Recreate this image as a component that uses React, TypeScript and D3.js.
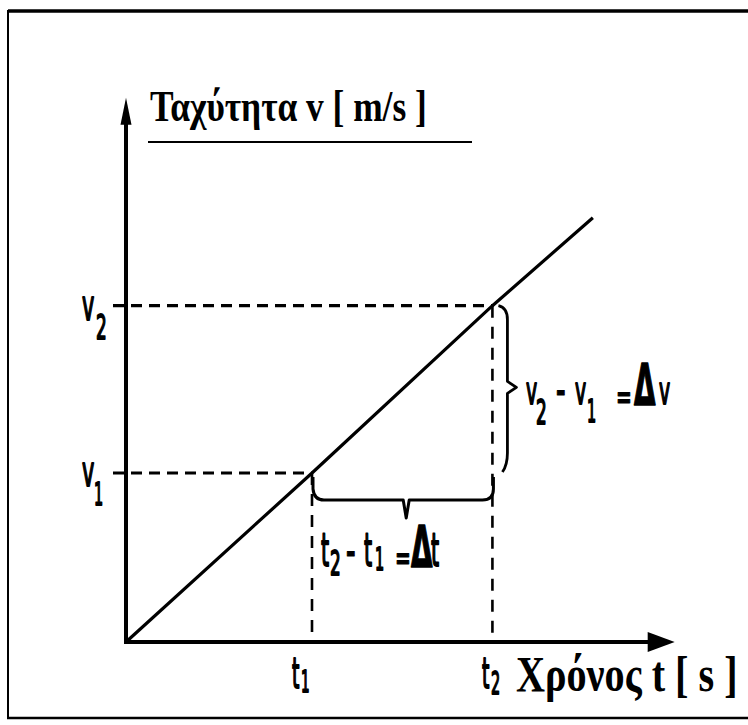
import React from "react";
import * as d3 from "d3";

// ---- data (abstract units) ----
const tMarks = [1, 1.97]; // t1, t2
const vMarks = [1, 1.99]; // v1, v2
const lineT = [0, 1, 1.97, 2.51];
const lineV = [0, 1, 1.99, 2.51];
const axisMaxT = 2.95;
const axisMaxV = 3.22;
const yTitle = "Ταχύτητα v [ m/s ]";
const xTitle = "Χρόνος t [ s ]";

const W = 748;
const H = 725;

const x = d3.scaleLinear().domain([0, 1]).range([126, 312]);
const y = d3.scaleLinear().domain([0, 1]).range([642, 473]);

const handFont = "'Liberation Sans Narrow', 'DejaVu Sans Condensed', 'Liberation Sans', sans-serif";
const serifFont = "'Liberation Serif', 'DejaVu Serif', serif";

function Hand({ px, py, text, size = 40, sx = 0.6, weight = 400, sw = 1.8 }: { px: number; py: number; text: string; size?: number; sx?: number; weight?: number; sw?: number }) {
  return (
    <text
      transform={`translate(${px},${py}) scale(${sx},1)`}
      fontFamily={handFont}
      fontSize={size}
      fontWeight={weight}
      fill="#000"
      stroke="#000"
      strokeWidth={sw}
      strokeLinejoin="round"
    >
      {text}
    </text>
  );
}

export default function App() {
  const x0 = x(0);
  const y0 = y(0);
  const xT1 = x(tMarks[0]);
  const xT2 = x(tMarks[1]);
  const yV1 = y(vMarks[0]);
  const yV2 = y(vMarks[1]);
  const xEnd = x(axisMaxT);
  const yEnd = y(axisMaxV);

  const linePath = d3
    .line<number>()
    .x((_, i) => x(lineT[i]))
    .y((_, i) => y(lineV[i]))(lineV) as string;

  // vertical brace (Δv)
  const vb = d3.path();
  const bx = xT2 + 15;
  const yMid = (yV1 + yV2) / 2;
  vb.moveTo(xT2 + 6, yV2);
  vb.quadraticCurveTo(bx, yV2 + 2, bx, yV2 + 14);
  vb.lineTo(bx, yMid - 8);
  vb.lineTo(bx + 9, yMid - 2);
  vb.lineTo(bx, yMid + 4);
  vb.lineTo(bx, yV1 - 20);
  vb.quadraticCurveTo(bx, yV1 - 8, bx - 5, yV1 - 1);

  // horizontal brace (Δt)
  const hb = d3.path();
  const by = yV1 + 27;
  const xMid = (xT1 + xT2) / 2 + 4;
  hb.moveTo(xT1 + 1, yV1 + 4);
  hb.lineTo(xT1 + 1, by - 11);
  hb.quadraticCurveTo(xT1 + 2, by, xT1 + 12, by);
  hb.lineTo(xMid - 3, by);
  hb.lineTo(xMid, by + 18);
  hb.lineTo(xMid + 3, by);
  hb.lineTo(xT2 - 10, by);
  hb.quadraticCurveTo(xT2 + 1, by, xT2 + 1, by - 11);
  hb.lineTo(xT2 + 1, yV1 + 4);

  const dash = "11 7";

  return (
    <svg width={W} height={H} style={{ position: "absolute", left: 0, top: 0, background: "#fff" }}>
      <rect x={0} y={0} width={W} height={H} fill="#fff" />
      {/* frame */}
      <line x1={8} y1={11} x2={W} y2={11} stroke="#000" strokeWidth={3.5} />
      <line x1={8} y1={10} x2={8} y2={719} stroke="#000" strokeWidth={2} />
      <line x1={7} y1={718} x2={W} y2={718} stroke="#000" strokeWidth={2.5} />

      {/* dashed guides */}
      <line x1={x0 - 13} y1={yV1} x2={xT1} y2={yV1} stroke="#000" strokeWidth={3.2} strokeDasharray={dash} />
      <line x1={x0 - 13} y1={yV2} x2={xT2} y2={yV2} stroke="#000" strokeWidth={3.2} strokeDasharray={dash} />
      <line x1={xT1} y1={yV1} x2={xT1} y2={y0} stroke="#000" strokeWidth={2.6} strokeDasharray="12 9" />
      <line x1={xT2} y1={yV2} x2={xT2} y2={y0} stroke="#000" strokeWidth={2.6} strokeDasharray="12 9" />

      {/* axes */}
      <line x1={x0} y1={y0} x2={x0} y2={yEnd + 22} stroke="#000" strokeWidth={4} />
      <path d={`M${x0},${yEnd} L${x0 - 5.5},${yEnd + 27} L${x0 + 5.5},${yEnd + 27} Z`} fill="#000" />
      <line x1={x0 - 2} y1={y0} x2={xEnd - 24} y2={y0} stroke="#000" strokeWidth={4} />
      <path d={`M${xEnd},${y0} L${xEnd - 27},${y0 - 10} L${xEnd - 27},${y0 + 10} Z`} fill="#000" />

      {/* main line */}
      <path d={linePath} fill="none" stroke="#000" strokeWidth={3.2} />

      {/* braces */}
      <path d={vb.toString()} fill="none" stroke="#000" strokeWidth={2.8} strokeLinejoin="round" />
      <path d={hb.toString()} fill="none" stroke="#000" strokeWidth={3} strokeLinejoin="round" />

      {/* y title */}
      <text transform="translate(150,121) scale(0.8,1)" fontFamily={serifFont} fontWeight={700} fontSize={44} textLength={346} lengthAdjust="spacingAndGlyphs">
        {yTitle}
      </text>
      <line x1={148} y1={142} x2={472} y2={142} stroke="#000" strokeWidth={2} />

      {/* x title */}
      <text transform="translate(516,691) scale(0.8,1)" fontFamily={serifFont} fontWeight={700} fontSize={50} textLength={277} lengthAdjust="spacingAndGlyphs">
        {xTitle}
      </text>

      {/* axis mark labels */}
      <Hand px={82} py={320} text="v" size={42} sx={0.55} />
      <Hand px={96} py={339} text="2" size={34} sx={0.55} />
      <Hand px={82} py={486} text="v" size={42} sx={0.55} />
      <Hand px={94} py={505} text="1" size={32} sx={0.5} />

      <Hand px={292} py={688} text="t" size={42} sx={0.5} />
      <Hand px={301} py={692} text="1" size={30} sx={0.5} />
      <Hand px={482} py={688} text="t" size={42} sx={0.5} />
      <Hand px={491} py={694} text="2" size={32} sx={0.5} />

      {/* Δv annotation */}
      <Hand px={526} py={404} text="v" size={38} sx={0.55} />
      <Hand px={536} py={424} text="2" size={34} sx={0.55} />
      <Hand px={556} py={402} text="-" size={32} sx={0.8} weight={700} sw={1} />
      <Hand px={575} py={404} text="v" size={38} sx={0.55} />
      <Hand px={587} py={422} text="1" size={32} sx={0.5} />
      <Hand px={616} py={407} text="=" size={30} sx={0.7} weight={700} sw={1} />
      <Hand px={634} py={405} text="Δ" size={56} sx={0.55} weight={700} sw={1.5} />
      <Hand px={659} py={404} text="v" size={38} sx={0.55} />

      {/* Δt annotation */}
      <Hand px={321} py={566} text="t" size={46} sx={0.5} />
      <Hand px={330} py={575} text="2" size={34} sx={0.55} />
      <Hand px={346} py={563} text="-" size={32} sx={0.8} weight={700} sw={1} />
      <Hand px={364} py={566} text="t" size={46} sx={0.5} />
      <Hand px={375} py={570} text="1" size={32} sx={0.5} />
      <Hand px={395} py={568} text="=" size={30} sx={0.7} weight={700} sw={1} />
      <Hand px={411} py={567} text="Δ" size={56} sx={0.55} weight={700} sw={1.5} />
      <Hand px={431} py={566} text="t" size={46} sx={0.5} />
    </svg>
  );
}
